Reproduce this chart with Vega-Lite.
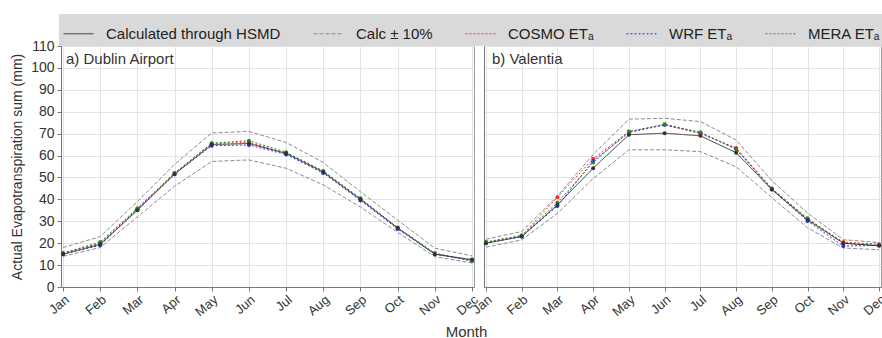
{
  "$schema": "https://vega.github.io/schema/vega-lite/v6.json",
  "padding": {"left": 10, "top": 14, "right": 2, "bottom": 0},
  "background": "white",
  "data": {
    "values": [
      {"station": "Dublin Airport", "month": "Jan", "Calculated through HSMD": 15, "Calc upper": 18, "Calc lower": 14, "COSMO ETₐ": 15.5, "WRF ETₐ": 15, "MERA ETₐ": 15.5},
      {"station": "Dublin Airport", "month": "Feb", "Calculated through HSMD": 19.5, "Calc upper": 23, "Calc lower": 18, "COSMO ETₐ": 20, "WRF ETₐ": 19, "MERA ETₐ": 20.5},
      {"station": "Dublin Airport", "month": "Mar", "Calculated through HSMD": 35, "Calc upper": 39, "Calc lower": 32, "COSMO ETₐ": 35.5, "WRF ETₐ": 35.5, "MERA ETₐ": 36},
      {"station": "Dublin Airport", "month": "Apr", "Calculated through HSMD": 51.5, "Calc upper": 56, "Calc lower": 46, "COSMO ETₐ": 52, "WRF ETₐ": 51.5, "MERA ETₐ": 52},
      {"station": "Dublin Airport", "month": "May", "Calculated through HSMD": 65, "Calc upper": 70.3, "Calc lower": 57.3, "COSMO ETₐ": 65.5, "WRF ETₐ": 64.5, "MERA ETₐ": 65.6},
      {"station": "Dublin Airport", "month": "Jun", "Calculated through HSMD": 65.5, "Calc upper": 71, "Calc lower": 58, "COSMO ETₐ": 66, "WRF ETₐ": 64.8, "MERA ETₐ": 66.8},
      {"station": "Dublin Airport", "month": "Jul", "Calculated through HSMD": 61, "Calc upper": 66, "Calc lower": 54.2, "COSMO ETₐ": 61, "WRF ETₐ": 60.5, "MERA ETₐ": 61.5},
      {"station": "Dublin Airport", "month": "Aug", "Calculated through HSMD": 52.5, "Calc upper": 56.8, "Calc lower": 46.6, "COSMO ETₐ": 52.5, "WRF ETₐ": 52, "MERA ETₐ": 53},
      {"station": "Dublin Airport", "month": "Sep", "Calculated through HSMD": 40, "Calc upper": 43.5, "Calc lower": 36.5, "COSMO ETₐ": 40, "WRF ETₐ": 39.5, "MERA ETₐ": 40.5},
      {"station": "Dublin Airport", "month": "Oct", "Calculated through HSMD": 27, "Calc upper": 30.5, "Calc lower": 25, "COSMO ETₐ": 27, "WRF ETₐ": 26.5, "MERA ETₐ": 27},
      {"station": "Dublin Airport", "month": "Nov", "Calculated through HSMD": 15, "Calc upper": 17.7, "Calc lower": 13.8, "COSMO ETₐ": 15, "WRF ETₐ": 15, "MERA ETₐ": 15.5},
      {"station": "Dublin Airport", "month": "Dec", "Calculated through HSMD": 12.5, "Calc upper": 14.2, "Calc lower": 11, "COSMO ETₐ": 12, "WRF ETₐ": 12.2, "MERA ETₐ": 11.8},
      {"station": "Valentia", "month": "Jan", "Calculated through HSMD": 20, "Calc upper": 21.8, "Calc lower": 18.2, "COSMO ETₐ": 20.5, "WRF ETₐ": 20, "MERA ETₐ": 20.5},
      {"station": "Valentia", "month": "Feb", "Calculated through HSMD": 23, "Calc upper": 25.3, "Calc lower": 21.5, "COSMO ETₐ": 23.5, "WRF ETₐ": 23, "MERA ETₐ": 23.5},
      {"station": "Valentia", "month": "Mar", "Calculated through HSMD": 37.5, "Calc upper": 41.5, "Calc lower": 33.6, "COSMO ETₐ": 41, "WRF ETₐ": 37, "MERA ETₐ": 38.5},
      {"station": "Valentia", "month": "Apr", "Calculated through HSMD": 54.2, "Calc upper": 60.5, "Calc lower": 49.5, "COSMO ETₐ": 58.5, "WRF ETₐ": 57.5, "MERA ETₐ": 56.8},
      {"station": "Valentia", "month": "May", "Calculated through HSMD": 69.5, "Calc upper": 76.6, "Calc lower": 62.6, "COSMO ETₐ": 71, "WRF ETₐ": 70.5, "MERA ETₐ": 70.9},
      {"station": "Valentia", "month": "Jun", "Calculated through HSMD": 70.2, "Calc upper": 77, "Calc lower": 62.6, "COSMO ETₐ": 74, "WRF ETₐ": 74, "MERA ETₐ": 74.3},
      {"station": "Valentia", "month": "Jul", "Calculated through HSMD": 69, "Calc upper": 75.5, "Calc lower": 61.8, "COSMO ETₐ": 70, "WRF ETₐ": 70.5, "MERA ETₐ": 70.5},
      {"station": "Valentia", "month": "Aug", "Calculated through HSMD": 61.3, "Calc upper": 67.1, "Calc lower": 54.9, "COSMO ETₐ": 63.5, "WRF ETₐ": 63, "MERA ETₐ": 62.9},
      {"station": "Valentia", "month": "Sep", "Calculated through HSMD": 44.5, "Calc upper": 48.5, "Calc lower": 40.8, "COSMO ETₐ": 45, "WRF ETₐ": 44.5, "MERA ETₐ": 44.8},
      {"station": "Valentia", "month": "Oct", "Calculated through HSMD": 30.6, "Calc upper": 33.8, "Calc lower": 27, "COSMO ETₐ": 31, "WRF ETₐ": 30.1, "MERA ETₐ": 31.4},
      {"station": "Valentia", "month": "Nov", "Calculated through HSMD": 20, "Calc upper": 21.6, "Calc lower": 17.8, "COSMO ETₐ": 20.5, "WRF ETₐ": 18.7, "MERA ETₐ": 20},
      {"station": "Valentia", "month": "Dec", "Calculated through HSMD": 18.8, "Calc upper": 20.3, "Calc lower": 17, "COSMO ETₐ": 19.5, "WRF ETₐ": 19, "MERA ETₐ": 19}
    ]
  },
  "transform": [
    {"fold": ["Calc upper", "Calc lower", "COSMO ETₐ", "WRF ETₐ", "MERA ETₐ", "Calculated through HSMD"], "as": ["series", "value"]}
  ],
  "bounds": "flush",
  "spacing": 10,
  "hconcat": [
    {
      "width": 413,
      "height": 241,
      "layer": [
        {
          "transform": [{"filter": "datum.station === 'Dublin Airport'"}],
          "mark": {"type": "line", "strokeWidth": 1},
          "encoding": {
            "x": {"field": "month", "type": "ordinal", "sort": null, "scale": {"type": "point", "padding": 0.054},
                  "axis": {"title": "Month", "titleX": 405, "titleY": 37, "titleBaseline": "top"}},
            "y": {"field": "value", "type": "quantitative", "scale": {"domain": [0, 110], "nice": false},
                  "axis": {"title": "Actual Evapotranspiration sum (mm)", "labelOverlap": false, "tickCount": 12, "values": [0, 10, 20, 30, 40, 50, 60, 70, 80, 90, 100, 110]}},
            "color": {"field": "series", "type": "nominal", "title": null,
                      "scale": {"domain": ["Calculated through HSMD", "Calc ± 10%", "Calc upper", "Calc lower", "COSMO ETₐ", "WRF ETₐ", "MERA ETₐ"],
                                "range": ["#333333", "#8c8c8c", "#8c8c8c", "#8c8c8c", "#ff2a2a", "#2a2aff", "#1f8f1f"]},
                      "legend": {"values": ["Calculated through HSMD", "Calc ± 10%", "COSMO ETₐ", "WRF ETₐ", "MERA ETₐ"]}},
            "strokeDash": {"field": "series", "type": "nominal", "title": null,
                           "scale": {"domain": ["Calculated through HSMD", "Calc ± 10%", "Calc upper", "Calc lower", "COSMO ETₐ", "WRF ETₐ", "MERA ETₐ"],
                                     "range": [[1, 0], [4, 2], [4, 2], [4, 2], [2, 2], [2, 2], [2, 2]]},
                           "legend": {"values": ["Calculated through HSMD", "Calc ± 10%", "COSMO ETₐ", "WRF ETₐ", "MERA ETₐ"]}}
          }
        },
        {
          "transform": [{"filter": "datum.station === 'Dublin Airport' && datum.series !== 'Calc upper' && datum.series !== 'Calc lower'"}],
          "mark": {"type": "point", "filled": true, "size": 16, "opacity": 1},
          "encoding": {
            "x": {"field": "month", "type": "ordinal", "sort": null},
            "y": {"field": "value", "type": "quantitative"},
            "color": {"field": "series", "type": "nominal", "title": null}
          }
        },
        {
          "data": {"values": [{"label": "a) Dublin Airport"}]},
          "mark": {"type": "text", "align": "left", "baseline": "middle", "dx": 3, "fontSize": 15, "color": "#333333", "font": "Liberation Sans"},
          "encoding": {
            "x": {"datum": "Jan", "type": "ordinal"},
            "y": {"datum": 104, "type": "quantitative"},
            "text": {"field": "label"}
          }
        }
      ]
    },
    {
      "width": 397,
      "height": 241,
      "layer": [
        {
          "transform": [{"filter": "datum.station === 'Valentia'"}],
          "mark": {"type": "line", "strokeWidth": 1},
          "encoding": {
            "x": {"field": "month", "type": "ordinal", "sort": null, "scale": {"type": "point", "padding": 0.054},
                  "axis": {"title": null}},
            "y": {"field": "value", "type": "quantitative", "scale": {"domain": [0, 110], "nice": false},
                  "axis": {"title": null, "labels": false, "ticks": false, "tickCount": 12, "values": [0, 10, 20, 30, 40, 50, 60, 70, 80, 90, 100, 110]}},
            "color": {"field": "series", "type": "nominal", "title": null},
            "strokeDash": {"field": "series", "type": "nominal", "title": null}
          }
        },
        {
          "transform": [{"filter": "datum.station === 'Valentia' && datum.series !== 'Calc upper' && datum.series !== 'Calc lower'"}],
          "mark": {"type": "point", "filled": true, "size": 16, "opacity": 1},
          "encoding": {
            "x": {"field": "month", "type": "ordinal", "sort": null},
            "y": {"field": "value", "type": "quantitative"},
            "color": {"field": "series", "type": "nominal", "title": null}
          }
        },
        {
          "data": {"values": [{"label": "b) Valentia"}]},
          "mark": {"type": "text", "align": "left", "baseline": "middle", "dx": 6, "fontSize": 15, "color": "#333333", "font": "Liberation Sans"},
          "encoding": {
            "x": {"datum": "Jan", "type": "ordinal"},
            "y": {"datum": 104, "type": "quantitative"},
            "text": {"field": "label"}
          }
        }
      ]
    }
  ],
  "config": {
    "font": "Liberation Sans",
    "view": {"stroke": "#9a9a9a", "strokeWidth": 1},
    "axis": {
      "gridColor": "#e3e3e3",
      "gridWidth": 1,
      "domainColor": "#777777",
      "tickColor": "#777777",
      "tickSize": 4,
      "labelColor": "#333333",
      "titleColor": "#333333",
      "labelFontSize": 14,
      "titleFontSize": 14,
      "titleFontWeight": "normal",
      "labelFont": "Liberation Sans",
      "titleFont": "Liberation Sans"
    },
    "axisX": {"labelAngle": -40, "labelAlign": "right", "labelBaseline": "top", "labelFontSize": 13, "labelPadding": 2, "titleFontSize": 15, "grid": true},
    "axisY": {"labelPadding": 3, "titlePadding": 6, "labelOverlap": false},
    "legend": {
      "orient": "none",
      "legendX": -2,
      "legendY": -32,
      "direction": "horizontal",
      "fillColor": "#d9d9d9",
      "padding": 4,
      "symbolType": "stroke",
      "symbolSize": 900,
      "symbolStrokeWidth": 1,
      "labelFontSize": 15,
      "labelColor": "#222222",
      "labelFont": "Liberation Sans",
      "labelOffset": 12,
      "columnPadding": 30,
      "labelLimit": 300
    }
  }
}
